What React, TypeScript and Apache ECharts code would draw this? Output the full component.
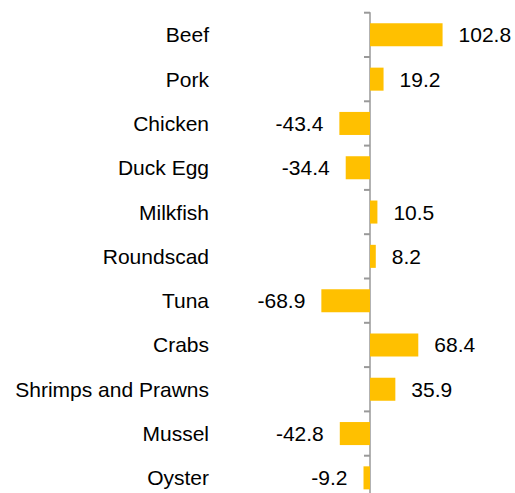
import React, { useEffect, useRef } from "react";
import * as echarts from "echarts";

const categories = [
  "Beef",
  "Pork",
  "Chicken",
  "Duck Egg",
  "Milkfish",
  "Roundscad",
  "Tuna",
  "Crabs",
  "Shrimps and Prawns",
  "Mussel",
  "Oyster",
];
const values = [102.8, 19.2, -43.4, -34.4, 10.5, 8.2, -68.9, 68.4, 35.9, -42.8, -9.2];

const X_MIN = -100;
const X_MAX = 150;
const PX_PER_UNIT = 0.706;
const ZERO_X = 370;
const LABEL_RIGHT = 209;
const TOP = 12.7;
const BAND = 44.3;

export default function App() {
  const ref = useRef<HTMLDivElement>(null);
  useEffect(() => {
    document.body.style.margin = "0";
    if (!ref.current) return;
    const chart = echarts.init(ref.current, null, { renderer: "svg" });
    const font = "'Liberation Sans', Arial, sans-serif";
    const gridLeft = ZERO_X + X_MIN * PX_PER_UNIT;
    const axisGray = "#999999";
    chart.setOption({
      animation: false,
      textStyle: { fontFamily: font },
      grid: {
        left: gridLeft,
        width: (X_MAX - X_MIN) * PX_PER_UNIT,
        top: TOP,
        height: categories.length * BAND,
        containLabel: false,
        outerBoundsMode: "none",
      },
      xAxis: {
        type: "value",
        min: X_MIN,
        max: X_MAX,
        show: false,
        splitLine: { show: false },
      },
      yAxis: {
        type: "category",
        data: categories,
        inverse: true,
        axisLine: { show: true, onZero: true, lineStyle: { color: axisGray, width: 1.5 } },
        axisTick: { show: false },
        axisLabel: { margin: gridLeft - LABEL_RIGHT, fontSize: 21, color: "#000", fontFamily: font },
      },
      series: [
        {
          type: "bar",
          barWidth: "52%",
          itemStyle: { color: "#FFC000" },
          data: values.map((v) => ({
            value: v,
            label: {
              show: true,
              position: v >= 0 ? "right" : "left",
              distance: 16,
              fontSize: 21,
              color: "#000",
              fontFamily: font,
              formatter: (p: any) => String(p.value),
            },
          })),
        },
        {
          type: "scatter",
          silent: true,
          z: 10,
          symbol: "rect",
          symbolSize: [6, 2],
          symbolOffset: [-3, -BAND / 2],
          itemStyle: { color: axisGray, opacity: 1 },
          label: { show: false },
          data: categories.map((_, i) => [0, i]),
        },
      ],
    });
    return () => chart.dispose();
  }, []);
  return <div ref={ref} style={{ width: 515, height: 493 }} />;
}
